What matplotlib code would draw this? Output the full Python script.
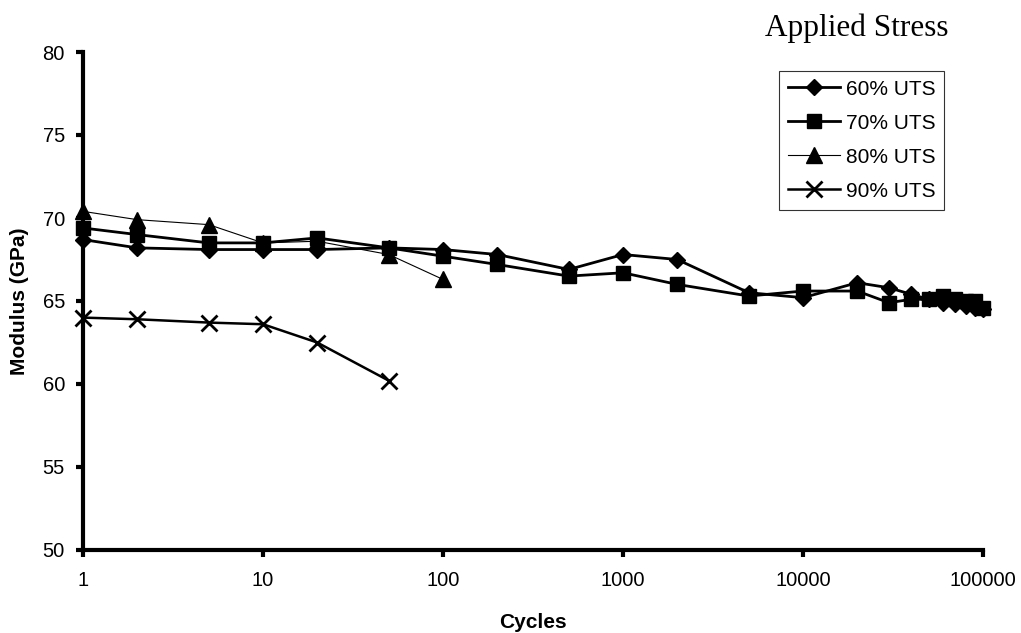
import matplotlib
matplotlib.use("Agg")
import matplotlib.pyplot as plt
from matplotlib.ticker import FixedLocator, NullLocator, FixedFormatter

plt.rcParams['font.family'] = ['Liberation Sans', 'DejaVu Sans']

# Cycles at which the modulus was measured
cycles_60 = [1, 2, 5, 10, 20, 50, 100, 200, 500, 1000, 2000, 5000, 10000,
             20000, 30000, 40000, 50000, 60000, 70000, 80000, 90000, 100000]
modulus_60 = [68.7, 68.2, 68.1, 68.1, 68.1, 68.2, 68.1, 67.8, 66.9, 67.8, 67.5,
              65.5, 65.2, 66.1, 65.8, 65.4, 65.1, 64.9, 64.8, 64.7, 64.6, 64.5]

cycles_70 = [1, 2, 5, 10, 20, 50, 100, 200, 500, 1000, 2000, 5000, 10000,
             20000, 30000, 40000, 50000, 60000, 70000, 80000, 90000, 100000]
modulus_70 = [69.4, 69.0, 68.5, 68.5, 68.8, 68.2, 67.7, 67.2, 66.5, 66.7, 66.0,
              65.3, 65.6, 65.6, 64.9, 65.1, 65.1, 65.3, 65.1, 65.0, 65.0, 64.6]

cycles_80 = [1, 2, 5, 10, 20, 50, 100]
modulus_80 = [70.4, 69.9, 69.6, 68.5, 68.6, 67.8, 66.3]

cycles_90 = [1, 2, 5, 10, 20, 50]
modulus_90 = [64.0, 63.9, 63.7, 63.6, 62.5, 60.2]

x_ticks = [1, 10, 100, 1000, 10000, 100000]
x_tick_labels = ["1", "10", "100", "1000", "10000", "100000"]
y_ticks = [50, 55, 60, 65, 70, 75, 80]

fig = plt.figure(figsize=(10.21, 6.33), dpi=100)
ax = fig.add_axes([83 / 1021, 1 - 550 / 633, 900 / 1021, 498 / 633])

ax.plot(cycles_60, modulus_60, color='black', lw=2.0, marker='D', ms=8.5,
        label='60% UTS', clip_on=False, zorder=4)
ax.plot(cycles_70, modulus_70, color='black', lw=2.0, marker='s', ms=10.5,
        label='70% UTS', clip_on=False, zorder=3)
ax.plot(cycles_80, modulus_80, color='black', lw=0.8, marker='^', ms=11,
        label='80% UTS', clip_on=False, zorder=3)
ax.plot(cycles_90, modulus_90, color='black', lw=1.8, marker='x', ms=11,
        mew=2.0, label='90% UTS', clip_on=False, zorder=3)

ax.set_xscale('log')
ax.set_xlim(1, 100000)
ax.set_ylim(50, 80)
ax.xaxis.set_major_locator(FixedLocator(x_ticks))
ax.xaxis.set_major_formatter(FixedFormatter(x_tick_labels))
ax.xaxis.set_minor_locator(NullLocator())
ax.yaxis.set_major_locator(FixedLocator(y_ticks))

for side in ('top', 'right'):
    ax.spines[side].set_visible(False)
ax.spines['left'].set_linewidth(3)
ax.spines['bottom'].set_linewidth(3)
ax.tick_params(axis='both', direction='out', length=5, width=3,
               labelsize=14.5)
ax.tick_params(axis='y', pad=8)
ax.tick_params(axis='x', pad=10)

ax.set_xlabel('Cycles', fontsize=15, fontweight='bold', labelpad=17)
ax.set_ylabel('Modulus (GPa)', fontsize=15, fontweight='bold', labelpad=10)

fig.text(857 / 1021, 1 - 28 / 633, 'Applied Stress', fontsize=22.5,
         family='Liberation Serif', ha='center', va='center')

leg = ax.legend(loc='upper left', bbox_to_anchor=(779 / 1021, 1 - 71 / 633),
                bbox_transform=fig.transFigure, fontsize=15, frameon=True,
                fancybox=False, edgecolor='black', handlelength=2.5,
                handletextpad=0.3, borderpad=0.42, borderaxespad=0,
                labelspacing=0.72)
leg.get_frame().set_linewidth(0.8)

fig.savefig('out.png', dpi=100, facecolor='white')
